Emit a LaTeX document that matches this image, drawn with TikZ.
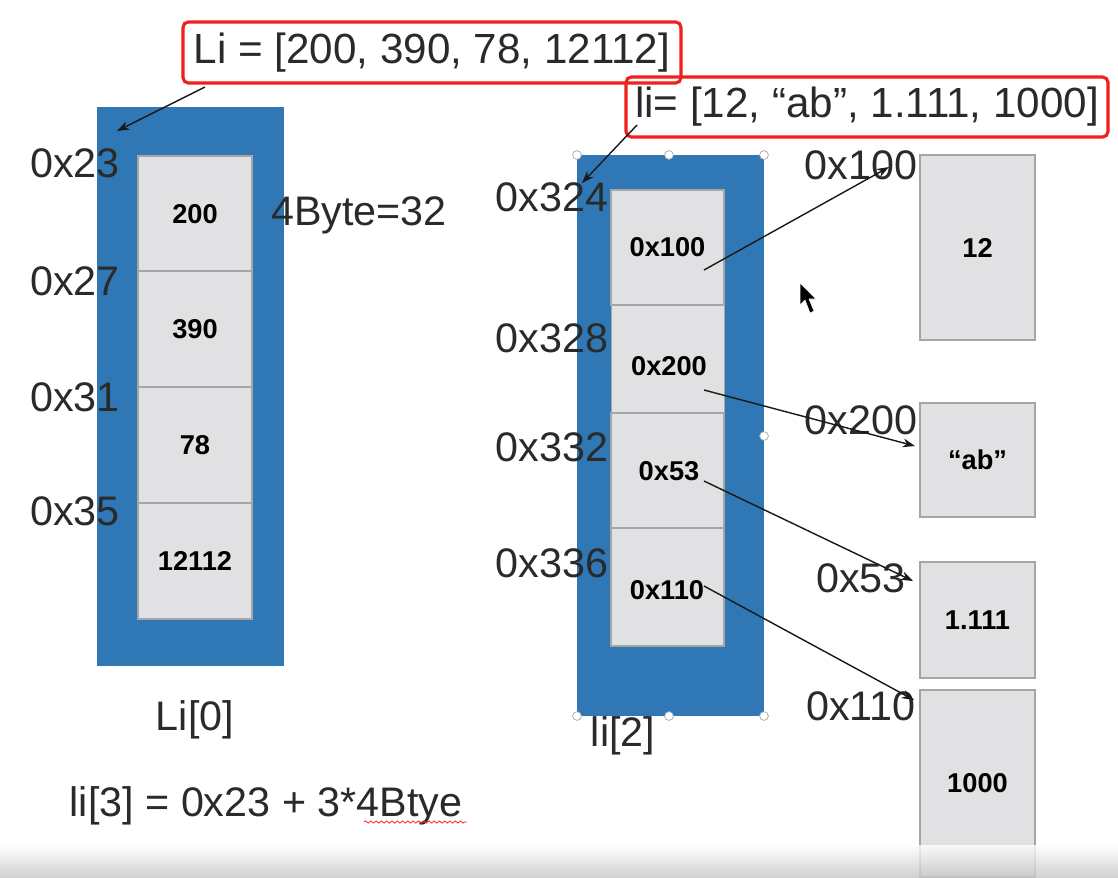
\documentclass[tikz,border=0pt]{standalone}
\usepackage{fontspec}
\setmainfont{Liberation Sans}
\usetikzlibrary{arrows.meta,decorations.pathmorphing}
\definecolor{boxblue}{HTML}{2F78B5}
\definecolor{cellgray}{HTML}{E1E1E3}
\definecolor{cellline}{HTML}{A5A5A8}
\definecolor{txt}{HTML}{2A2A2A}
\definecolor{redbox}{HTML}{F0201C}
\begin{document}
\begin{tikzpicture}[x=0.02cm,y=-0.02cm,
  big/.style={font=\fontsize{23.5}{28}\selectfont, text=txt, inner sep=0pt},
  bluebox/.style={fill=boxblue, draw=none, inner sep=0pt},
  cell/.style={draw=cellline, line width=0.7pt, fill=cellgray, inner sep=0pt,
    font=\fontsize{15.5}{18}\bfseries\selectfont, text=black},
  titlebox/.style={draw=redbox, line width=1.8pt, rounded corners=3pt, inner sep=0pt,
    font=\fontsize{24}{28}\selectfont, text=txt},
  conn/.style={draw=black!90, line width=0.8pt, -{Stealth[length=7pt,width=5pt]}},
  handle/.style={circle, draw=gray!70, fill=white, line width=0.4pt, inner sep=0pt, minimum size=5pt}
]
\useasboundingbox (0,0) rectangle (1118,877);
\fill[white] (0,0) rectangle (1118,877);

% ---------- left array ----------
\node[bluebox, minimum width=3.74cm, minimum height=11.18cm] (L) at (190.5,386.5) {};
\node[cell, minimum width=2.28cm, minimum height=2.32cm] (c0) at (195,214) {200};
\node[cell, minimum width=2.28cm, minimum height=2.32cm] (c1) at (195,329) {390};
\node[cell, minimum width=2.28cm, minimum height=2.32cm] (c2) at (195,445) {78};
\node[cell, minimum width=2.28cm, minimum height=2.32cm] (c3) at (195,561) {12112};

\node[big] (a23) at (75,163) {0x23};
\node[big] (a27) at (75,281) {0x27};
\node[big] (a31) at (75,397) {0x31};
\node[big] (a35) at (75,511) {0x35};
\node[big] (sz) at (359,215) {4Byte=32};
\node[big] (L0) at (195,720) {Li[0]};
\node[big] (form) at (266,806) {li[3] = 0x23 + 3*4Btye};
\draw[red!80, line width=0.5pt, decorate, decoration={snake, amplitude=0.6pt, segment length=3pt}]
  (364,822) -- (467,822);

\node[titlebox, minimum width=9.96cm, minimum height=1.22cm] (t1) at (432,52.5) {Li = [200, 390, 78, 12112]};
\coordinate (t1s) at (205,87);
\coordinate (t1e) at (117,131);
\draw[conn] (t1s) -- (t1e);

% ---------- right array ----------
\node[bluebox, minimum width=3.74cm, minimum height=11.22cm] (R) at (670.5,435.5) {};
\node[cell, minimum width=2.26cm, minimum height=2.30cm] (r0) at (667.5,247.5) {0x100};
\node[cell, minimum width=2.26cm, minimum height=2.16cm] (r1) at (668,359) {};
\node[cell, minimum width=2.26cm, minimum height=2.30cm] (r2) at (667.5,470.5) {};
\node[cell, minimum width=2.26cm, minimum height=2.36cm] (r3) at (667.5,587) {};
\node[font=\fontsize{15.5}{18}\bfseries\selectfont, inner sep=0pt] (r1t) at (669,366) {0x200};
\node[font=\fontsize{15.5}{18}\bfseries\selectfont, inner sep=0pt] (r2t) at (669,471) {0x53};
\node[font=\fontsize{15.5}{18}\bfseries\selectfont, inner sep=0pt] (r3t) at (667,590) {0x110};

\foreach \p in {(577,155),(669,155),(764,155),(764,436),(577,716),(669,716),(764,716)}
  \node[handle] at \p {};

\node[big] (b324) at (552,197) {0x324};
\node[big] (b328) at (552,338) {0x328};
\node[big] (b332) at (552,447) {0x332};
\node[big] (b336) at (552,563) {0x336};
\node[big] (R2) at (623,736) {li[2]};

\node[titlebox, minimum width=9.64cm, minimum height=1.2cm] (t2) at (867,107) {li= [12, “ab”, 1.111, 1000]};
\coordinate (t2s) at (637,125);
\coordinate (t2e) at (582,183);
\draw[conn] (t2s) -- (t2e);

% ---------- values ----------
\node[cell, minimum width=2.3cm, minimum height=3.7cm] (v0) at (977.5,247.5) {12};
\node[cell, minimum width=2.3cm, minimum height=2.28cm] (v1) at (977.5,460) {“ab”};
\node[cell, minimum width=2.3cm, minimum height=2.32cm] (v2) at (977.5,620) {1.111};
\node[cell, minimum width=2.3cm, minimum height=3.74cm] (v3) at (977.5,783.5) {1000};

\node[big] (d100) at (861,165) {0x100};
\node[big] (d200) at (861,420) {0x200};
\node[big] (d53) at (861,578) {0x53};
\node[big] (d110) at (861,706) {0x110};

\coordinate (s0) at (704,270); \coordinate (e0) at (889,167);
\coordinate (s1) at (704,390); \coordinate (e1) at (915,446);
\coordinate (s2) at (704,481); \coordinate (e2) at (913,581);
\coordinate (s3) at (704,586); \coordinate (e3) at (914,700);
\draw[conn] (s0) -- (e0);
\draw[conn] (s1) -- (e1);
\draw[conn] (s2) -- (e2);
\draw[conn] (s3) -- (e3);

% mouse pointer
\filldraw[fill=black, draw=white, line width=0.3pt]
  (800,283) -- (800,305) -- (805,300) -- (810,313) -- (814,311) -- (809,299) -- (816,299) -- cycle;

% bottom band
\shade[top color=white, bottom color=gray!45, opacity=0.8] (0,845) rectangle (1118,877);
\end{tikzpicture}
\end{document}
